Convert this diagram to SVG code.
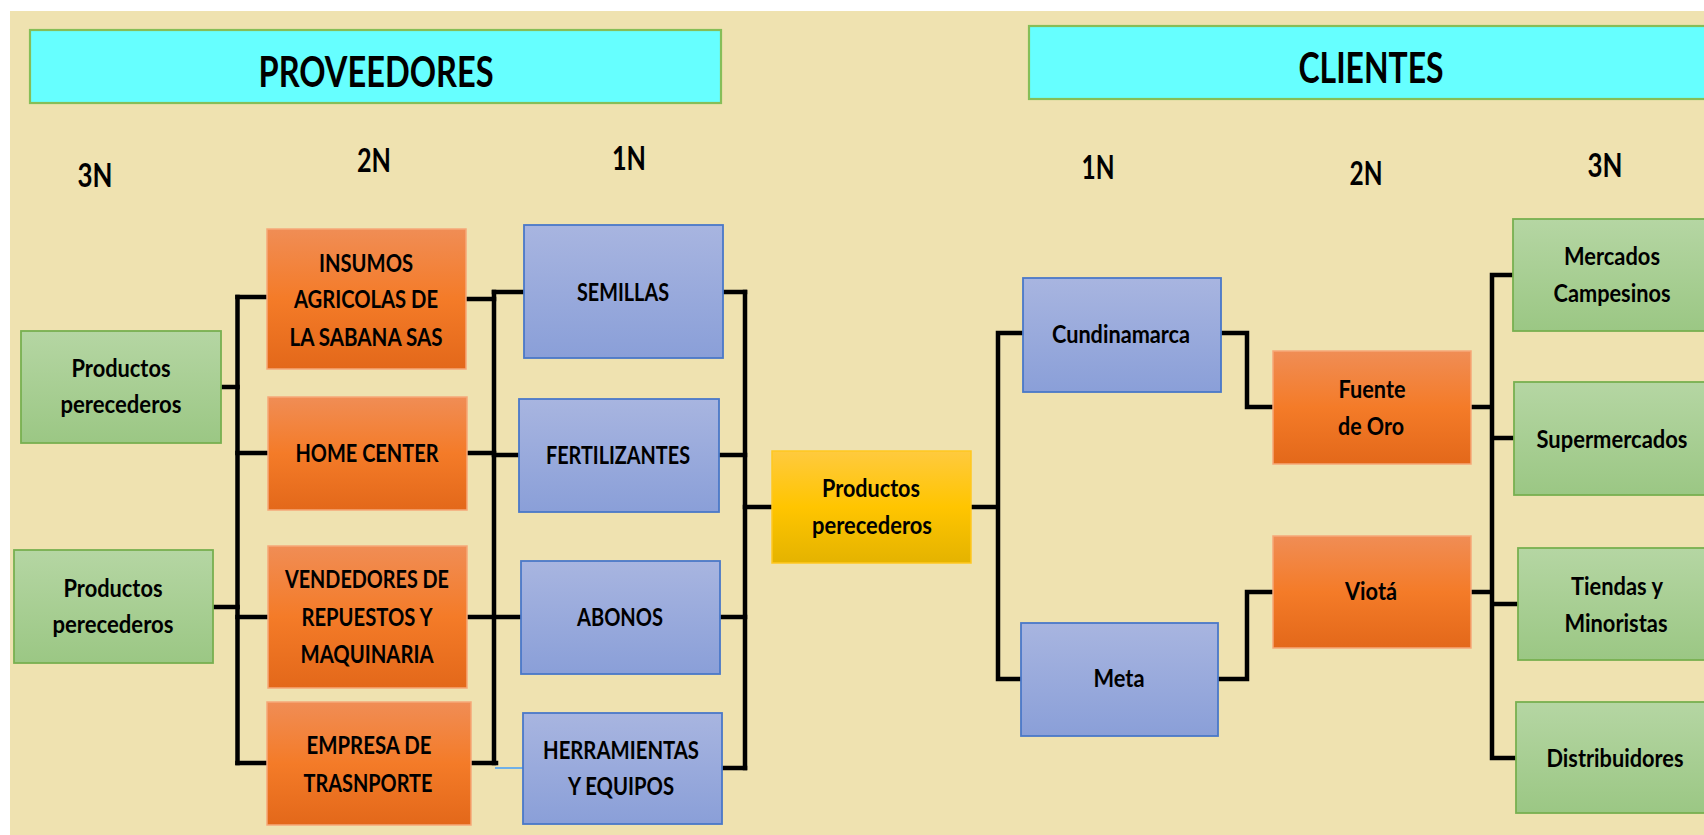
<svg xmlns="http://www.w3.org/2000/svg" width="1704" height="835" viewBox="0 0 1704 835">
<defs>
<linearGradient id="gOr" x1="0" y1="0" x2="0" y2="1"><stop offset="0" stop-color="#F08D55"/><stop offset="0.5" stop-color="#F47B28"/><stop offset="1" stop-color="#E3681A"/></linearGradient>
<linearGradient id="gBl" x1="0" y1="0" x2="0" y2="1"><stop offset="0" stop-color="#A8B5E0"/><stop offset="1" stop-color="#8A9FD8"/></linearGradient>
<linearGradient id="gGr" x1="0" y1="0" x2="0" y2="1"><stop offset="0" stop-color="#B5D6A3"/><stop offset="1" stop-color="#9BC784"/></linearGradient>
<linearGradient id="gYe" x1="0" y1="0" x2="0" y2="1"><stop offset="0" stop-color="#FFCA3E"/><stop offset="0.5" stop-color="#FFC500"/><stop offset="1" stop-color="#E4B300"/></linearGradient>
<style>
.or{fill:url(#gOr);stroke:#F6A878;stroke-width:1.5}
.bl{fill:url(#gBl);stroke:#4A78C8;stroke-width:1.8}
.gr{fill:url(#gGr);stroke:#78B050;stroke-width:1.8}
.ye{fill:url(#gYe);stroke:#FFC820;stroke-width:1.5}
.hd{fill:#66FFFF;stroke:#86BE58;stroke-width:2.2}
text{font-family:Lato,"Liberation Sans",sans-serif;font-weight:700;fill:#000;text-anchor:middle}
.t{font-size:24.5px}
.h{font-size:42px}
.l{font-size:33px}
.c{fill:none;stroke:#000;stroke-width:4.5;stroke-linejoin:miter;stroke-linecap:square}
.cb{fill:none;stroke:#6FB0E8;stroke-width:2}
</style>
</defs>
<rect x="0" y="0" width="1704" height="835" fill="#FFFFFF"/>
<rect x="10" y="11" width="1694" height="824" fill="#EFE2B0"/>

<g id="hdr-proveedores"><rect class="hd" x="30" y="30" width="691" height="73"/><text class="h" x="376" y="87" textLength="235" lengthAdjust="spacingAndGlyphs">PROVEEDORES</text></g>
<g id="hdr-clientes"><rect class="hd" x="1029" y="26" width="690" height="73"/><text class="h" x="1371" y="83" textLength="145" lengthAdjust="spacingAndGlyphs">CLIENTES</text></g>

<g id="levels">
<text class="l" x="95" y="187" textLength="35" lengthAdjust="spacingAndGlyphs">3N</text>
<text class="l" x="374" y="172" textLength="34" lengthAdjust="spacingAndGlyphs">2N</text>
<text class="l" x="629" y="170" textLength="34" lengthAdjust="spacingAndGlyphs">1N</text>
<text class="l" x="1098" y="179" textLength="33" lengthAdjust="spacingAndGlyphs">1N</text>
<text class="l" x="1366" y="185" textLength="33" lengthAdjust="spacingAndGlyphs">2N</text>
<text class="l" x="1605" y="177" textLength="35" lengthAdjust="spacingAndGlyphs">3N</text>
</g>

<g id="connectors">
<path class="c" d="M237.5,297V763"/>
<path class="c" d="M221,387H237.5M213,607H237.5M237.5,297H267M237.5,453H268M237.5,617H268M237.5,763H267"/>
<path class="c" d="M494,292V763"/>
<path class="c" d="M466,299H494M494,292H524M467,453H494M494,455H519M467,617H521M471,763H496"/>
<path class="cb" d="M495,768H523"/>
<path class="c" d="M745,292V768"/>
<path class="c" d="M723,292H745M719,455H745M720,617H745M722,768H745M745,507H772"/>
<path class="c" d="M970,507H998M998,333V679M998,333H1023M998,679H1021"/>
<path class="c" d="M1221,333H1247V407H1273"/>
<path class="c" d="M1218,679H1247V592H1273"/>
<path class="c" d="M1492,275V758M1471,407H1492M1471,592H1492M1492,275H1513M1492,438H1514M1492,604H1518M1492,758H1516"/>
</g>

<g id="p3-1"><rect class="gr" x="21" y="331" width="200" height="112"/><text class="t" x="121" y="377" textLength="99" lengthAdjust="spacingAndGlyphs">Productos</text><text class="t" x="121" y="413" textLength="121" lengthAdjust="spacingAndGlyphs">perecederos</text></g>
<g id="p3-2"><rect class="gr" x="14" y="550" width="199" height="113"/><text class="t" x="113" y="597" textLength="99" lengthAdjust="spacingAndGlyphs">Productos</text><text class="t" x="113" y="633" textLength="121" lengthAdjust="spacingAndGlyphs">perecederos</text></g>

<g id="p2-insumos"><rect class="or" x="267" y="229" width="199" height="140"/><text class="t" x="366" y="272" textLength="94" lengthAdjust="spacingAndGlyphs">INSUMOS</text><text class="t" x="366" y="308" textLength="144" lengthAdjust="spacingAndGlyphs">AGRICOLAS DE</text><text class="t" x="366" y="346" textLength="153" lengthAdjust="spacingAndGlyphs">LA SABANA SAS</text></g>
<g id="p2-home"><rect class="or" x="268" y="397" width="199" height="113"/><text class="t" x="367" y="462" textLength="143" lengthAdjust="spacingAndGlyphs">HOME CENTER</text></g>
<g id="p2-vendedores"><rect class="or" x="268" y="546" width="199" height="142"/><text class="t" x="367" y="588" textLength="164" lengthAdjust="spacingAndGlyphs">VENDEDORES DE</text><text class="t" x="367" y="626" textLength="131" lengthAdjust="spacingAndGlyphs">REPUESTOS Y</text><text class="t" x="367" y="663" textLength="133" lengthAdjust="spacingAndGlyphs">MAQUINARIA</text></g>
<g id="p2-empresa"><rect class="or" x="267" y="702" width="204" height="123"/><text class="t" x="369" y="754" textLength="125" lengthAdjust="spacingAndGlyphs">EMPRESA DE</text><text class="t" x="368" y="792" textLength="129" lengthAdjust="spacingAndGlyphs">TRASNPORTE</text></g>

<g id="p1-semillas"><rect class="bl" x="524" y="225" width="199" height="133"/><text class="t" x="623" y="301" textLength="92" lengthAdjust="spacingAndGlyphs">SEMILLAS</text></g>
<g id="p1-fertilizantes"><rect class="bl" x="519" y="399" width="200" height="113"/><text class="t" x="618" y="464" textLength="144" lengthAdjust="spacingAndGlyphs">FERTILIZANTES</text></g>
<g id="p1-abonos"><rect class="bl" x="521" y="561" width="199" height="113"/><text class="t" x="620" y="626" textLength="86" lengthAdjust="spacingAndGlyphs">ABONOS</text></g>
<g id="p1-herramientas"><rect class="bl" x="523" y="713" width="199" height="111"/><text class="t" x="621" y="759" textLength="156" lengthAdjust="spacingAndGlyphs">HERRAMIENTAS</text><text class="t" x="621" y="795" textLength="106" lengthAdjust="spacingAndGlyphs">Y EQUIPOS</text></g>

<g id="center"><rect class="ye" x="772" y="451" width="199" height="112"/><text class="t" x="871" y="497" textLength="98" lengthAdjust="spacingAndGlyphs">Productos</text><text class="t" x="872" y="534" textLength="120" lengthAdjust="spacingAndGlyphs">perecederos</text></g>

<g id="c1-cundinamarca"><rect class="bl" x="1023" y="278" width="198" height="114"/><text class="t" x="1121" y="343" textLength="138" lengthAdjust="spacingAndGlyphs">Cundinamarca</text></g>
<g id="c1-meta"><rect class="bl" x="1021" y="623" width="197" height="113"/><text class="t" x="1119" y="687" textLength="51" lengthAdjust="spacingAndGlyphs">Meta</text></g>

<g id="c2-fuente"><rect class="or" x="1273" y="351" width="198" height="113"/><text class="t" x="1372" y="398" textLength="67" lengthAdjust="spacingAndGlyphs">Fuente</text><text class="t" x="1371" y="435" textLength="66" lengthAdjust="spacingAndGlyphs">de Oro</text></g>
<g id="c2-viota"><rect class="or" x="1273" y="536" width="198" height="112"/><text class="t" x="1371" y="600" textLength="52" lengthAdjust="spacingAndGlyphs">Viotá</text></g>

<g id="c3-mercados"><rect class="gr" x="1513" y="219" width="201" height="112"/><text class="t" x="1612" y="265" textLength="96" lengthAdjust="spacingAndGlyphs">Mercados</text><text class="t" x="1612" y="302" textLength="117" lengthAdjust="spacingAndGlyphs">Campesinos</text></g>
<g id="c3-supermercados"><rect class="gr" x="1514" y="382" width="200" height="113"/><text class="t" x="1612" y="448" textLength="151" lengthAdjust="spacingAndGlyphs">Supermercados</text></g>
<g id="c3-tiendas"><rect class="gr" x="1518" y="548" width="196" height="112"/><text class="t" x="1617" y="595" textLength="92" lengthAdjust="spacingAndGlyphs">Tiendas y</text><text class="t" x="1616" y="632" textLength="103" lengthAdjust="spacingAndGlyphs">Minoristas</text></g>
<g id="c3-distribuidores"><rect class="gr" x="1516" y="702" width="198" height="111"/><text class="t" x="1615" y="767" textLength="137" lengthAdjust="spacingAndGlyphs">Distribuidores</text></g>
</svg>
